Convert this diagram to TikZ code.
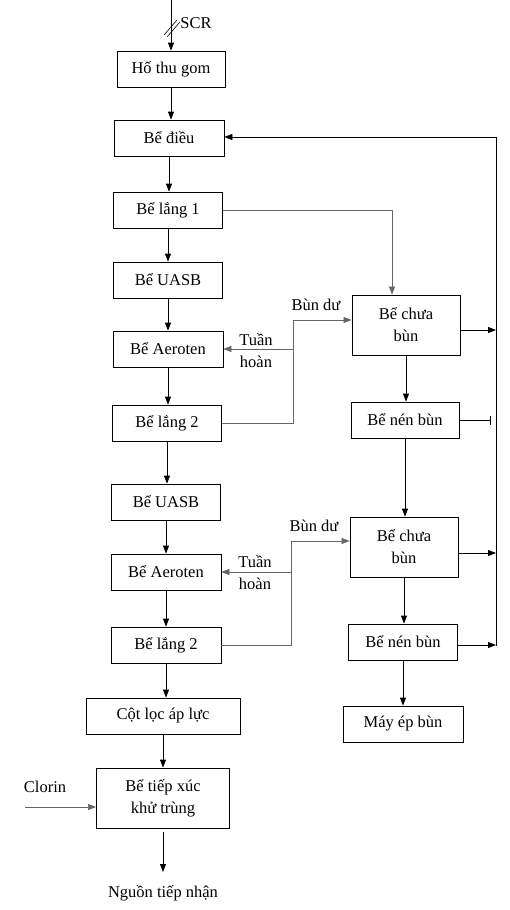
\documentclass[tikz,border=0pt]{standalone}
\usepackage{fontspec}
\setmainfont{Liberation Serif}
\usetikzlibrary{positioning,calc,arrows.meta}
\tikzset{
  tank/.style={draw, line width=0.8pt, minimum height=36pt, inner sep=2pt,
    align=center, font=\fontsize{16.5}{22}\selectfont},
  tallbox/.style={tank, minimum height=60pt},
  lbl/.style={inner sep=1pt, align=center, font=\fontsize{16.5}{22}\selectfont},
  flow/.style={-{Triangle[length=8pt,width=6pt]}, line width=0.8pt},
  sludge/.style={flow, draw=gray!80!black, line width=0.6pt}
}
\begin{document}
\begin{tikzpicture}[x=1pt,y=-1pt]
  \useasboundingbox (0,0) rectangle (509,910);
  % main line
  \node[tank, minimum width=108pt] (thugom) at (171,69) {Hố thu gom};
  \node[tank, minimum width=110pt] (dieu) at (169,138) {Bể điều};
  \node[tank, minimum width=109pt] (lang1) at (168,210) {Bể lắng 1};
  \node[tank, minimum width=109pt] (uasb1) at (168,280) {Bể UASB};
  \node[tank, minimum width=110pt] (aero1) at (168,349) {Bể Aeroten};
  \node[tank, minimum width=109pt] (lang2a) at (167,423) {Bể lắng 2};
  \node[tank, minimum width=109pt] (uasb2) at (166,502) {Bể UASB};
  \node[tank, minimum width=110pt] (aero2) at (166,572) {Bể Aeroten};
  \node[tank, minimum width=110pt] (lang2b) at (166,645) {Bể lắng 2};
  \node[tank, minimum width=154pt] (cotloc) at (163,716) {Cột lọc áp lực};
  \node[tallbox, minimum width=133pt] (khutrung) at (163,798) {Bể tiếp xúc\\khử trùng};
  \node[lbl] (nguon) at (163,893) {Nguồn tiếp nhận};
  % sludge line
  \node[tallbox, minimum width=108pt] (chua1) at (406,325) {Bể chưa\\bùn};
  \node[tank, minimum width=108pt] (nen1) at (405,420) {Bể nén bùn};
  \node[tallbox, minimum width=108pt] (chua2) at (404,547) {Bể chưa\\bùn};
  \node[tank, minimum width=109pt] (nen2) at (403,642) {Bể nén bùn};
  \node[tank, minimum width=120pt] (mayep) at (403,724) {Máy ép bùn};
  % labels
  \node[lbl] (scr) at (196,23) {SCR};
  \node[lbl] (clorin) at (45,787) {Clorin};
  \node[lbl] (bundu1) at (316,305) {Bùn dư};
  \node[lbl] (tuan1) at (256,351) {Tuần\\hoàn};
  \node[lbl] (bundu2) at (314,526) {Bùn dư};
  \node[lbl] (tuan2) at (255,573) {Tuần\\hoàn};
  % free ends
  \coordinate (inlet) at (171,0);
  \coordinate (clin) at (25,807);
  \coordinate (split1) at (293,320);
  \coordinate (split2) at (291,541);
  \coordinate (busTop) at (496,137);
  \coordinate (busBot) at (496,646);
  \coordinate (outlet) at (163,872);

  \draw[flow] (inlet) -- (thugom);
  \draw[line width=0.6pt] (164,35) -- (177,20) (167,37) -- (180,22);
  \draw[flow] (thugom.south) -- (thugom.south |- dieu.north);
  \draw[flow] (dieu.south) -- (dieu.south |- lang1.north);
  \draw[flow] (lang1.south) -- (lang1.south |- uasb1.north);
  \draw[flow] (uasb1.south) -- (uasb1.south |- aero1.north);
  \draw[flow] (aero1.south) -- (aero1.south |- lang2a.north);
  \draw[flow] (lang2a.south) -- (lang2a.south |- uasb2.north);
  \draw[flow] (uasb2.south) -- (uasb2.south |- aero2.north);
  \draw[flow] (aero2.south) -- (aero2.south |- lang2b.north);
  \draw[flow] (lang2b.south) -- (lang2b.south |- cotloc.north);
  \draw[flow] (cotloc.south) -- (cotloc.south |- khutrung.north);
  \draw[flow] (khutrung.south) ++(0,4) -- (outlet);
  \draw[sludge] (clin) -- (clin -| khutrung.west);

  \draw[sludge] (lang1.east) -| ($(chua1.north)+(-14,0)$);
  \draw[sludge] (lang2a.east) -| (split1) -- (split1 -| chua1.west);
  \draw[sludge] (split1 |- aero1) -- (aero1.east);
  \draw[sludge] (lang2b.east) -| (split2) -- (split2 -| chua2.west);
  \draw[sludge] (split2 |- aero2) -- (aero2.east);

  \draw[flow] (chua1.south) -- (chua1.south |- nen1.north);
  \draw[flow] (nen1.south) -- (nen1.south |- chua2.north);
  \draw[flow] (chua2.south) -- (chua2.south |- nen2.north);
  \draw[flow] (nen2.south) -- (nen2.south |- mayep.north);

  \draw[line width=0.8pt] (busBot) -- (busTop);
  \draw[flow] (busTop) -- (busTop -| dieu.east);
  \draw[flow] ($(chua1.east)+(0,5)$) -- ($(chua1.east -| busTop)+(0,5)$);
  \draw[line width=0.8pt, -{Bar[width=9pt]}] (nen1.east) -- ($(nen1.east -| busTop)+(-5,0)$);
  \draw[flow] ($(chua2.east)+(0,6)$) -- ($(chua2.east -| busTop)+(0,6)$);
  \draw[flow] ($(nen2.east)+(0,3)$) -- ($(nen2.east -| busTop)+(0,3)$);
\end{tikzpicture}
\end{document}
